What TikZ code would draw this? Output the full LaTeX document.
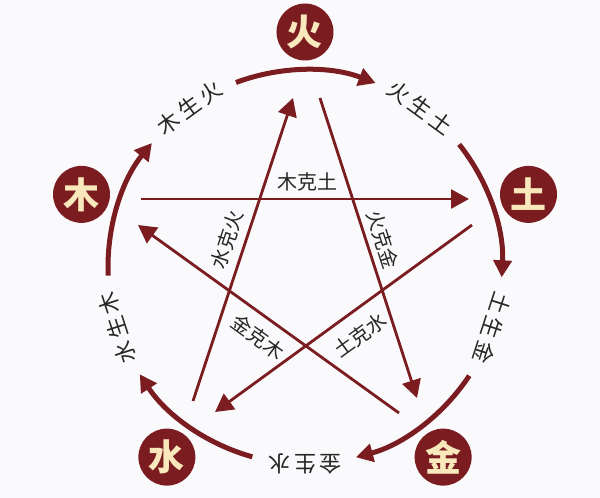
\documentclass[tikz,border=0pt]{standalone}
\usepackage{fontspec}
\newfontfamily\cjk{Noto Sans CJK SC}
\newfontfamily\cjkwide[LetterSpace=18]{Noto Sans CJK SC}
\usetikzlibrary{arrows.meta}
\definecolor{wxred}{HTML}{7A1C20}
\definecolor{wxcream}{HTML}{F8E8BC}
\definecolor{wxbg}{HTML}{FAFAFC}
\tikzset{
  elem/.style={circle, fill=wxred, minimum size=57pt, inner sep=0pt, text=wxcream, font=\cjk\bfseries\fontsize{36}{36}\selectfont},
  shenglabel/.style={font=\cjkwide\fontsize{22}{22}\selectfont, text=black!85, inner sep=0pt},
  kelabel/.style={font=\cjk\fontsize{20}{20}\selectfont, text=black!85, inner sep=0pt},
  shengarrow/.style={draw=wxred, line width=5pt, -{Triangle[length=17pt,width=18pt]}},
  kearrow/.style={draw=wxred, line width=2.8pt, -{Triangle[length=18pt,width=19pt]}},
}
\begin{document}
\begin{tikzpicture}[x=1pt,y=1pt]
    \fill[wxbg] (-305,-231) rectangle (295,267);
    \useasboundingbox (-305,-231) rectangle (295,267);
    % elements
    \node[elem] (huo) at (90:235pt) {火};
    \node[elem] (tu) at (18:235pt) {土};
    \node[elem] (jin) at (-54:235pt) {金};
    \node[elem] (shui) at (-126:235pt) {水};
    \node[elem] (mu) at (162:235pt) {木};
    % sheng cycle
    \foreach \a in {90,18,-54,-126,162}
        \draw[shengarrow] ({\a+20.5}:197pt) arc[start angle=\a+20.5, end angle=\a-21, radius=197pt];
    \node[shenglabel, rotate=36] (mu-sheng) at (126:197pt) {木生火};
    \node[shenglabel, rotate=-36] (huo-sheng) at (54:197pt) {火生土};
    \node[shenglabel, rotate=-108] (tu-sheng) at (-18:197pt) {土生金};
    \node[shenglabel, rotate=-180] (jin-sheng) at (-90:197pt) {金生水};
    \node[shenglabel, rotate=108] (shui-sheng) at (198:197pt) {水生木};
    % ke star
    \coordinate (mu-ke) at (-164,68);
    \coordinate (mu-in) at (-167,42);
    \coordinate (tu-ke) at (167,42);
    \coordinate (tu-in) at (164,68);
    \coordinate (huo-ke) at (15,169);
    \coordinate (huo-in) at (-12,169);
    \coordinate (jin-ke) at (94,-146);
    \coordinate (jin-in) at (112,-131);
    \coordinate (shui-ke) at (-112,-134);
    \coordinate (shui-in) at (-90,-145);
    \draw[kearrow] (mu-ke) -- (tu-in);
    \draw[kearrow] (huo-ke) -- (jin-in);
    \draw[kearrow] (tu-ke) -- (shui-in);
    \draw[kearrow] (jin-ke) -- (mu-in);
    \draw[kearrow] (shui-ke) -- (huo-in);
    \node[kelabel] (mu-ke-tu) at (3,85) {木克土};
    \node[kelabel, rotate=-72] (huo-ke-jin) at (78,27) {火克金};
    \node[kelabel, rotate=72] (shui-ke-huo) at (-78,27) {水克火};
    \node[kelabel, rotate=-36] (jin-ke-mu) at (-47,-70) {金克木};
    \node[kelabel, rotate=36] (tu-ke-shui) at (55,-68) {土克水};
\end{tikzpicture}
\end{document}
